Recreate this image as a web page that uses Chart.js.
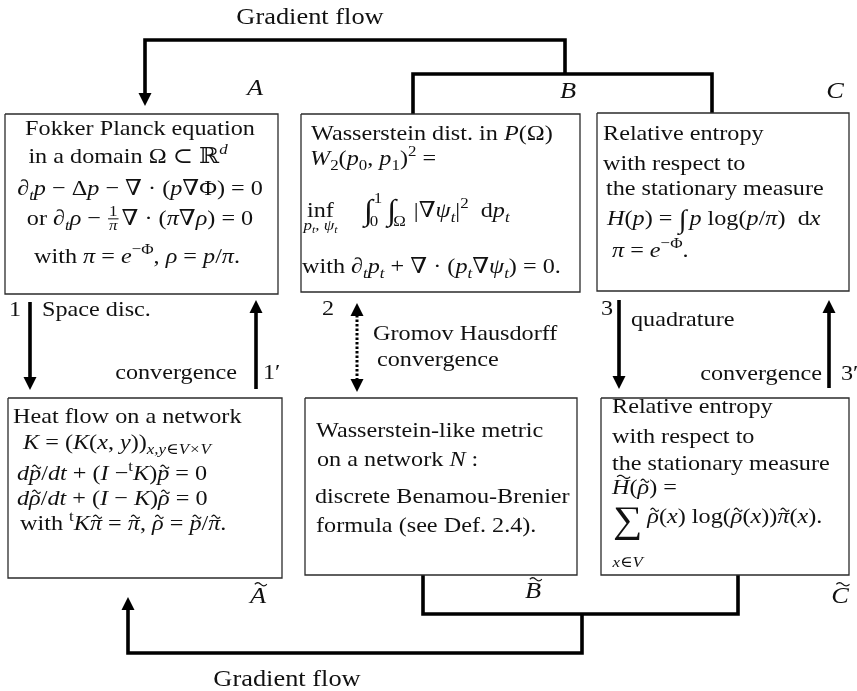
<!DOCTYPE html>
<html>
<head>
<meta charset="utf-8">
<script src="https://cdn.jsdelivr.net/npm/chart.js@4.4.0/dist/chart.umd.min.js"></script>
<style>
  html, body { margin: 0; padding: 0; background: #fff; }
  #wrap { position: relative; width: 857px; height: 691px; }
</style>
</head>
<body>
<div id="wrap"><canvas id="diagram"></canvas></div>
<script>
// diagram units: x to the right, y downwards, figure is 857 x 691
const X_RANGE = [0, 857];
const Y_RANGE = [0, 691];

// boxes [left, top, right, bottom]
const boxA  = [5, 114, 278, 294];
const boxB  = [301, 114, 580, 292];
const boxC  = [597, 113, 849, 291];
const boxAt = [8, 398, 282, 578];
const boxBt = [305, 398, 577, 575];
const boxCt = [601, 398, 849, 575];

// thick connectors (polylines), arrow tip is the last point where noted
const gradTop    = [[565, 74], [565, 40], [145, 40], [145, 106]];
const linkB      = [[413, 114], [413, 74], [712, 74], [712, 113]];
const linkBt     = [[423, 575], [423, 614], [738, 614], [738, 575]];
const gradBottom = [[582, 614], [582, 653], [128, 653], [128, 597]];
const arrow1     = [[30, 302], [30, 390]];
const arrow1b    = [[256, 389], [256, 300]];
const arrow2     = [[357, 303], [357, 392]];
const arrow3     = [[619, 300], [619, 389]];
const arrow3b    = [[829, 388], [829, 300]];

// text: {at:[x, baseline], align, size, line:[tokens]}
const textA = [
  { at: [140, 135], align: 'center', line: [['r', 'Fokker Planck equation']] },
  { at: [128, 163], align: 'center', line: [['r', 'in a domain Ω ⊂ '], ['r', 'ℝ'], ['ip', 'd']] },
  { at: [140, 195], align: 'center', line: [['i', '∂'], ['is', 't'], ['i', 'p'], ['r', ' − Δ'], ['i', 'p'], ['r', ' − ∇ · ('], ['i', 'p'], ['r', '∇Φ) = 0']] },
  { at: [140, 225], align: 'center', line: [['r', 'or '], ['i', '∂'], ['is', 't'], ['i', 'ρ'], ['r', ' − '], ['frac', [['r', '1']], [['i', 'π']]], ['r', '∇ · ('], ['i', 'π'], ['r', '∇'], ['i', 'ρ'], ['r', ') = 0']] },
  { at: [137, 263], align: 'center', line: [['r', 'with '], ['i', 'π'], ['r', ' = '], ['i', 'e'], ['rp', '−Φ'], ['r', ', '], ['i', 'ρ'], ['r', ' = '], ['i', 'p'], ['r', '/'], ['i', 'π'], ['r', '.']] }
];
const textB = [
  { at: [311, 140], line: [['r', 'Wasserstein dist. in '], ['i', 'P'], ['r', '(Ω)']] },
  { at: [310, 165], line: [['i', 'W'], ['rs', '2'], ['r', '('], ['i', 'p'], ['rs', '0'], ['r', ', '], ['i', 'p'], ['rs', '1'], ['r', ')'], ['rp', '2'], ['r', ' =']] },
  { at: [307, 217], line: [['r', 'inf'], ['under', [['i', 'p'], ['is', 't'], ['i', ', ψ'], ['is', 't']], 13], ['sp', 30],
      ['big', '∫', 1.35, 3], ['lim', [['r', '1']], [['r', '0']]], ['sp', 3], ['big', '∫', 1.35, 3], ['lim', [], [['r', 'Ω']]],
      ['r', ' |∇'], ['i', 'ψ'], ['is', 't'], ['r', '|'], ['rp', '2'], ['r', '  d'], ['i', 'p'], ['is', 't']] },
  { at: [302, 273], line: [['r', 'with '], ['i', '∂'], ['is', 't'], ['i', 'p'], ['is', 't'], ['r', ' + ∇ · ('], ['i', 'p'], ['is', 't'], ['r', '∇'], ['i', 'ψ'], ['is', 't'], ['r', ') = 0.']] }
];
const textC = [
  { at: [603, 140], line: [['r', 'Relative entropy']] },
  { at: [603, 170], line: [['r', 'with respect to']] },
  { at: [606, 195], line: [['r', 'the stationary measure']] },
  { at: [607, 225], line: [['i', 'H'], ['r', '('], ['i', 'p'], ['r', ') = '], ['big', '∫', 1.2, 3], ['sp', 3], ['i', 'p'], ['r', ' log('], ['i', 'p'], ['r', '/'], ['i', 'π'], ['r', ')  d'], ['i', 'x']] },
  { at: [612, 257], line: [['i', 'π'], ['r', ' = '], ['i', 'e'], ['rp', '−Φ'], ['r', '.']] }
];
const textAt = [
  { at: [13, 423], line: [['r', 'Heat flow on a network']] },
  { at: [23, 449], line: [['i', 'K'], ['r', ' = ('], ['i', 'K'], ['r', '('], ['i', 'x'], ['r', ', '], ['i', 'y'], ['r', '))'], ['is', 'x,y∈V×V']] },
  { at: [17, 480], line: [['i', 'd'], ['it', 'p'], ['r', '/'], ['i', 'dt'], ['r', ' + ('], ['i', 'I'], ['r', ' −'], ['rp', 't'], ['i', 'K'], ['r', ')'], ['it', 'p'], ['r', ' = 0']] },
  { at: [17, 505], line: [['i', 'd'], ['it', 'ρ'], ['r', '/'], ['i', 'dt'], ['r', ' + ('], ['i', 'I'], ['r', ' − '], ['i', 'K'], ['r', ')'], ['it', 'ρ'], ['r', ' = 0']] },
  { at: [20, 530], line: [['r', 'with '], ['rp', 't'], ['i', 'K'], ['it', 'π'], ['r', ' = '], ['it', 'π'], ['r', ', '], ['it', 'ρ'], ['r', ' = '], ['it', 'p'], ['r', '/'], ['it', 'π'], ['r', '.']] }
];
const textBt = [
  { at: [316, 437], line: [['r', 'Wasserstein-like metric']] },
  { at: [317, 466], line: [['r', 'on a network '], ['i', 'N'], ['r', ' :']] },
  { at: [315, 503], line: [['r', 'discrete Benamou-Brenier']] },
  { at: [316, 532], line: [['r', 'formula (see Def. 2.4).']] }
];
const textCt = [
  { at: [612, 413], line: [['r', 'Relative entropy']] },
  { at: [612, 443], line: [['r', 'with respect to']] },
  { at: [612, 470], line: [['r', 'the stationary measure']] },
  { at: [612, 494], line: [['it', 'H'], ['r', '('], ['it', 'ρ'], ['r', ') =']] },
  { at: [613, 523], line: [['big', '∑', 1.7, 9], ['under', [['i', 'x'], ['r', '∈'], ['i', 'V']], 44], ['sp', 5],
      ['it', 'ρ'], ['r', '('], ['i', 'x'], ['r', ') log('], ['it', 'ρ'], ['r', '('], ['i', 'x'], ['r', '))'], ['it', 'π'], ['r', '('], ['i', 'x'], ['r', ').']] }
];
const textFree = [
  { at: [310, 24], align: 'center', size: 24, line: [['r', 'Gradient flow']] },
  { at: [287, 686], align: 'center', size: 24, line: [['r', 'Gradient flow']] },
  { at: [255, 95], align: 'center', size: 24, line: [['i', 'A']] },
  { at: [568, 98], align: 'center', size: 24, line: [['i', 'B']] },
  { at: [835, 98], align: 'center', size: 24, line: [['i', 'C']] },
  { at: [258, 603], align: 'center', size: 24, line: [['it', 'A']] },
  { at: [533, 598], align: 'center', size: 24, line: [['it', 'B']] },
  { at: [840, 603], align: 'center', size: 24, line: [['it', 'C']] },
  { at: [9, 316], line: [['r', '1']] },
  { at: [42, 316], line: [['r', 'Space disc.']] },
  { at: [237, 379], align: 'right', line: [['r', 'convergence']] },
  { at: [263, 379], line: [['r', '1′']] },
  { at: [322, 315], line: [['r', '2']] },
  { at: [373, 340], line: [['r', 'Gromov Hausdorff']] },
  { at: [377, 366], line: [['r', 'convergence']] },
  { at: [601, 315], line: [['r', '3']] },
  { at: [631, 326], line: [['r', 'quadrature']] },
  { at: [822, 380], align: 'right', line: [['r', 'convergence']] },
  { at: [841, 380], line: [['r', '3′']] }
];

const FS = 22;          // body font size
const HS = 1.1;         // horizontal stretch, Computer Modern is wide
const HEAD_LEN = 12;
const HEAD_HALF = 6.5;
const INK = '#111';

function rect(b) {
  return [{x: b[0], y: b[1]}, {x: b[2], y: b[1]}, {x: b[2], y: b[3]}, {x: b[0], y: b[3]}, {x: b[0], y: b[1]}];
}

// pull the ends back so the arrow head (drawn by the plugin) carries the tip
function shaft(pts, headStart, headEnd) {
  const p = pts.map(q => ({x: q[0], y: q[1]}));
  const pull = (a, b) => {
    const dx = a.x - b.x, dy = a.y - b.y, d = Math.hypot(dx, dy);
    a.x -= dx / d * HEAD_LEN; a.y -= dy / d * HEAD_LEN;
  };
  if (headEnd) pull(p[p.length - 1], p[p.length - 2]);
  if (headStart) pull(p[0], p[1]);
  return p;
}

const boxStyle = { borderColor: '#2b2b2b', borderWidth: 1.3 };
const thick = { borderColor: '#000', borderWidth: 3.6 };

const datasets = [];
[boxA, boxB, boxC, boxAt, boxBt, boxCt].forEach(b => datasets.push(Object.assign({ data: rect(b) }, boxStyle)));
datasets.push(Object.assign({ data: shaft(gradTop, false, true), heads: [false, true] }, thick));
datasets.push(Object.assign({ data: shaft(linkB, false, false) }, thick));
datasets.push(Object.assign({ data: shaft(linkBt, false, false) }, thick));
datasets.push(Object.assign({ data: shaft(gradBottom, false, true), heads: [false, true] }, thick));
datasets.push(Object.assign({ data: shaft(arrow1, false, true), heads: [false, true] }, thick));
datasets.push(Object.assign({ data: shaft(arrow1b, false, true), heads: [false, true] }, thick));
datasets.push(Object.assign({ data: shaft(arrow3, false, true), heads: [false, true] }, thick));
datasets.push(Object.assign({ data: shaft(arrow3b, false, true), heads: [false, true] }, thick));
datasets.push({ data: shaft(arrow2, true, true), heads: [true, true], borderColor: '#000', borderWidth: 3, borderDash: [2.5, 2] });

datasets.forEach(d => {
  d.showLine = true;
  d.pointRadius = 0;
  d.pointHoverRadius = 0;
  d.fill = false;
  d.clip = false;
  d.borderJoinStyle = 'miter';
  d.borderCapStyle = 'butt';
  d.tension = 0;
});

// ---------- tiny math text setter ----------
function fontFor(italic, size) {
  return (italic ? 'italic ' : '') + size.toFixed(2) + 'px "Liberation Serif", "DejaVu Serif", "DejaVu Sans", serif';
}

function piece(ctx, txt, x, y, size, italic, draw) {
  ctx.font = fontFor(italic, size);
  const w = ctx.measureText(txt).width * HS;
  if (draw) {
    ctx.save();
    ctx.translate(x, y);
    ctx.scale(HS, 1);
    ctx.fillText(txt, 0, 0);
    ctx.restore();
  }
  return w;
}

function tilde(ctx, cx, cy, w) {
  ctx.save();
  ctx.strokeStyle = INK;
  ctx.lineWidth = 1.2;
  ctx.beginPath();
  for (let k = 0; k <= 16; k++) {
    const t = k / 16;
    const px = cx - w / 2 + t * w;
    const py = cy - 1.6 * Math.sin(2 * Math.PI * t);
    if (k === 0) ctx.moveTo(px, py); else ctx.lineTo(px, py);
  }
  ctx.stroke();
  ctx.restore();
}

function run(ctx, toks, x, y, size, draw) {
  let cx = x, lastStart = x, lastEnd = x;
  for (const tk of toks) {
    const kind = tk[0];
    const start = cx;
    if (kind === 'r' || kind === 'i') {
      cx += piece(ctx, tk[1], cx, y, size, kind === 'i', draw);
    } else if (kind === 'rs' || kind === 'is') {
      cx += piece(ctx, tk[1], cx, y + size * 0.22, size * 0.7, kind === 'is', draw);
    } else if (kind === 'rp' || kind === 'ip') {
      cx += piece(ctx, tk[1], cx, y - size * 0.4, size * 0.7, kind === 'ip', draw);
    } else if (kind === 'it') {
      const w = piece(ctx, tk[1], cx, y, size, true, draw);
      if (draw) {
        const cap = /[A-Z]/.test(tk[1]);
        tilde(ctx, cx + w * 0.55 + (cap ? 2 : 1), y - size * (cap ? 0.78 : 0.6), cap ? w * 0.75 : Math.max(w * 0.7, 7));
      }
      cx += w;
    } else if (kind === 'sp') {
      cx += tk[1];
    } else if (kind === 'big') {
      cx += piece(ctx, tk[1], cx, y + (tk[3] || 0), size * tk[2], false, draw);
    } else if (kind === 'lim') {
      const s = size * 0.7;
      const w1 = run(ctx, tk[1], cx + 1, y - size * 0.62, s, draw);
      const w2 = run(ctx, tk[2], cx - 3, y + size * 0.42, s, draw);
      cx += Math.max(w1 + 1, w2 - 3) + 2;
    } else if (kind === 'frac') {
      const s = size * 0.7;
      const w1 = run(ctx, tk[1], 0, 0, s, false), w2 = run(ctx, tk[2], 0, 0, s, false);
      const w = Math.max(w1, w2) + 4;
      const ay = y - size * 0.28;
      if (draw) {
        run(ctx, tk[1], cx + (w - w1) / 2, ay - 3, s, true);
        run(ctx, tk[2], cx + (w - w2) / 2, ay + s * 0.72, s, true);
        ctx.fillRect(cx + 1, ay - 0.5, w - 2, 1);
      }
      cx += w + 2;
    } else if (kind === 'under') {
      const s = size * 0.7;
      const wu = run(ctx, tk[1], 0, 0, s, false);
      if (draw) run(ctx, tk[1], (lastStart + lastEnd) / 2 - wu / 2, y + tk[2], s, true);
      continue;
    }
    lastStart = start;
    lastEnd = cx;
  }
  return cx - x;
}

const textPlugin = {
  id: 'mathText',
  afterDatasetsDraw(chart) {
    const ctx = chart.ctx;
    const xs = chart.scales.x, ys = chart.scales.y;
    ctx.save();
    ctx.fillStyle = INK;
    ctx.textBaseline = 'alphabetic';
    ctx.textAlign = 'left';
    [textA, textB, textC, textAt, textBt, textCt, textFree].forEach(group => {
      group.forEach(t => {
        const size = t.size || FS;
        const px = xs.getPixelForValue(t.at[0]);
        const py = ys.getPixelForValue(t.at[1]);
        const w = run(ctx, t.line, 0, 0, size, false);
        let x0 = px;
        if (t.align === 'center') x0 = px - w / 2;
        else if (t.align === 'right') x0 = px - w;
        run(ctx, t.line, x0, py, size, true);
      });
    });
    ctx.restore();
  }
};

const arrowPlugin = {
  id: 'arrowHeads',
  afterDatasetsDraw(chart) {
    const ctx = chart.ctx;
    ctx.save();
    ctx.fillStyle = '#000';
    chart.data.datasets.forEach((ds, i) => {
      if (!ds.heads) return;
      const pts = chart.getDatasetMeta(i).data;
      const ends = [];
      if (ds.heads[0]) ends.push([pts[0], pts[1]]);
      if (ds.heads[1]) ends.push([pts[pts.length - 1], pts[pts.length - 2]]);
      ends.forEach(([p, q]) => {
        const dx = p.x - q.x, dy = p.y - q.y, d = Math.hypot(dx, dy);
        const ux = dx / d, uy = dy / d;
        const bx = p.x - ux * 1, by = p.y - uy * 1;
        ctx.beginPath();
        ctx.moveTo(p.x + ux * HEAD_LEN, p.y + uy * HEAD_LEN);
        ctx.lineTo(bx - uy * HEAD_HALF, by + ux * HEAD_HALF);
        ctx.lineTo(bx + uy * HEAD_HALF, by - ux * HEAD_HALF);
        ctx.closePath();
        ctx.fill();
      });
    });
    ctx.restore();
  }
};

const whiteBg = {
  id: 'whiteBg',
  beforeDraw(chart) {
    const ctx = chart.ctx;
    ctx.save();
    ctx.fillStyle = '#fff';
    ctx.fillRect(0, 0, chart.width, chart.height);
    ctx.restore();
  }
};

new Chart(document.getElementById('diagram'), {
  type: 'scatter',
  data: { datasets },
  options: {
    responsive: true,
    maintainAspectRatio: false,
    animation: false,
    events: [],
    layout: { padding: 0 },
    plugins: { legend: { display: false }, tooltip: { enabled: false }, title: { display: false } },
    scales: {
      x: { type: 'linear', min: X_RANGE[0], max: X_RANGE[1], display: false },
      y: { type: 'linear', min: Y_RANGE[0], max: Y_RANGE[1], reverse: true, display: false }
    }
  },
  plugins: [whiteBg, arrowPlugin, textPlugin]
});
</script>
</body>
</html>
